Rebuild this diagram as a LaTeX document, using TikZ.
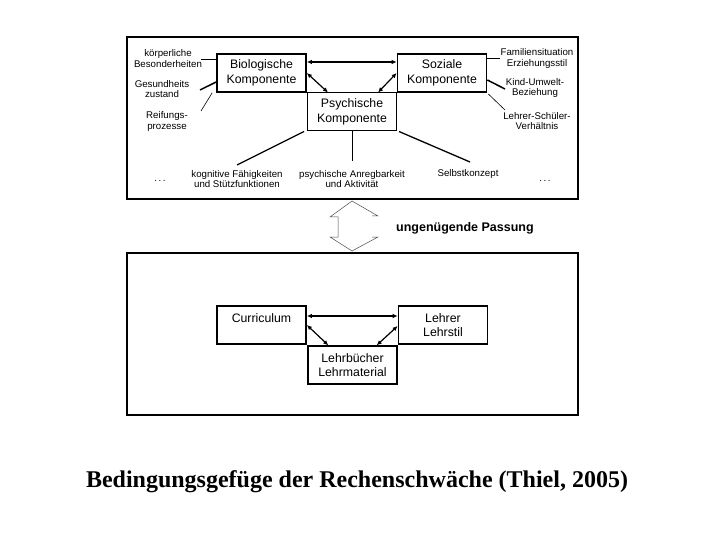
\documentclass[tikz,border=0pt]{standalone}
\usepackage{fontspec}
\setmainfont{Liberation Sans}
\newfontfamily\capfont{Liberation Serif}
\usetikzlibrary{arrows.meta}
\begin{document}
\begin{tikzpicture}[x=1pt,y=-1pt,
  frame/.style={draw, line width=1.6pt, minimum width=451pt, minimum height=162pt, inner sep=0pt},
  comp/.style={draw, line width=1.7pt, minimum width=89pt, minimum height=38pt, inner sep=0pt, align=center, font=\fontsize{12.3}{14.5}\selectfont},
  compthin/.style={comp, line width=1pt},
  lbl/.style={align=center, inner sep=0pt, font=\fontsize{9.7}{10.7}\selectfont},
  dbl/.style={line width=1.2pt, {Latex[length=5pt,width=4.5pt]}-{Latex[length=5pt,width=4.5pt]}},
  thick line/.style={line width=1.5pt},
  thin line/.style={line width=0.6pt},
  passung/.style={line width=0.5pt, draw=black!70}
]
\useasboundingbox (0,0) rectangle (720,540);
\fill[white] (0,0) rectangle (720,540);

% outer frames
\node[frame] (topframe) at (352.5,118) {};
\node[frame] (botframe) at (352.5,334) {};

% components
\node[comp] (bio) at (261.5,73) {Biologische\\Komponente};
\node[comp] (soz) at (442,73) {Soziale\\Komponente};
\node[compthin] (psy) at (352,112) {Psychische\\Komponente};

\draw[dbl] ([yshift=11pt]bio.east) -- ([yshift=11pt]soz.west);
\draw[dbl] (bio.east) -- ([xshift=21pt]psy.north west);
\draw[dbl] (soz.west) -- ([xshift=-19pt]psy.north east);

% left labels
\node[lbl] (kb) at (168,58.5) {körperliche\\Besonderheiten};
\node[lbl] (gz) at (162,89) {Gesundheits\\zustand};
\node[lbl] (rp) at (167,121.5) {Reifungs-\\prozesse};
\coordinate (kbend) at (201,59);
\coordinate (gzend) at (200,90);
\coordinate (rpend) at (201,111);
\draw[line width=0.8pt] (kbend) -- (kbend -| bio.west);
\draw[thick line] (gzend) -- ([yshift=-9pt]bio.west);
\draw[thin line] (rpend) -- ([xshift=-4pt]bio.south west);

% right labels
\node[lbl] (fe) at (537,58.5) {Familiensituation\\Erziehungsstil};
\node[lbl] (ku) at (535,88) {Kind-Umwelt-\\Beziehung};
\node[lbl] (ls) at (537,121) {Lehrer-Schüler-\\Verhältnis};
\coordinate (feend) at (500,58);
\coordinate (kuend) at (505,89);
\coordinate (lsend) at (505,110);
\draw[line width=0.8pt] (feend -| soz.east) -- (feend);
\draw[thick line] ([yshift=-7pt]soz.east) -- (kuend);
\draw[thin line] ([xshift=1pt,yshift=-21pt]soz.east) -- (lsend);

% bottom labels of psychic component
\node[lbl] (kf) at (237,179) {kognitive Fähigkeiten\\und Stützfunktionen};
\node[lbl] (pa) at (352,179) {psychische Anregbarkeit\\und Aktivität};
\node[lbl] (sk) at (468,174) {Selbstkonzept};
\node[lbl] (dl) at (160,181) {.\,.\,.};
\node[lbl] (dr) at (545,181) {.\,.\,.};
\coordinate (kfend) at (237,165);
\coordinate (paend) at (352,161);
\coordinate (skend) at (470,162);
\draw[line width=1.3pt] ([xshift=-3pt]psy.south west) -- (kfend);
\draw[line width=0.8pt] (psy.south) -- (paend);
\draw[line width=1.3pt] ([xshift=2pt]psy.south east) -- (skend);

% outline double arrow (ungenuegende Passung)
\coordinate (pt) at (352,201);
\coordinate (pb) at (352,251);
\draw[passung] (pt) -- (330,217) -- (338,217) -- (338,237) -- (330,237) -- (pb) -- (378,237) -- (372,237);
\draw[passung] (372,216) -- (378,216) -- (pt);
\node[anchor=west, inner sep=0pt, font=\bfseries\fontsize{12.5}{14}\selectfont] (pass) at (396,228) {ungenügende Passung};

% bottom components
\node[comp, align=center] (cur) at (261.5,325) {Curriculum\\\mbox{}};
\node[comp] (leh) at (443,325) {Lehrer\\Lehrstil};
\node[comp, line width=1.3pt] (lb) at (352.5,365) {Lehrbücher\\Lehrmaterial};

\draw[dbl] ([yshift=9pt]cur.east) -- ([yshift=9pt]leh.west);
\draw[dbl] (cur.east) -- ([xshift=21pt]lb.north west);
\draw[dbl] ([yshift=-1pt]leh.west) -- ([xshift=-21pt]lb.north east);

% caption
\node[font=\capfont\bfseries\fontsize{24}{28}\selectfont, inner sep=0pt] (cap) at (357,482) {Bedingungsgefüge der Rechenschwäche (Thiel, 2005)};
\end{tikzpicture}
\end{document}
